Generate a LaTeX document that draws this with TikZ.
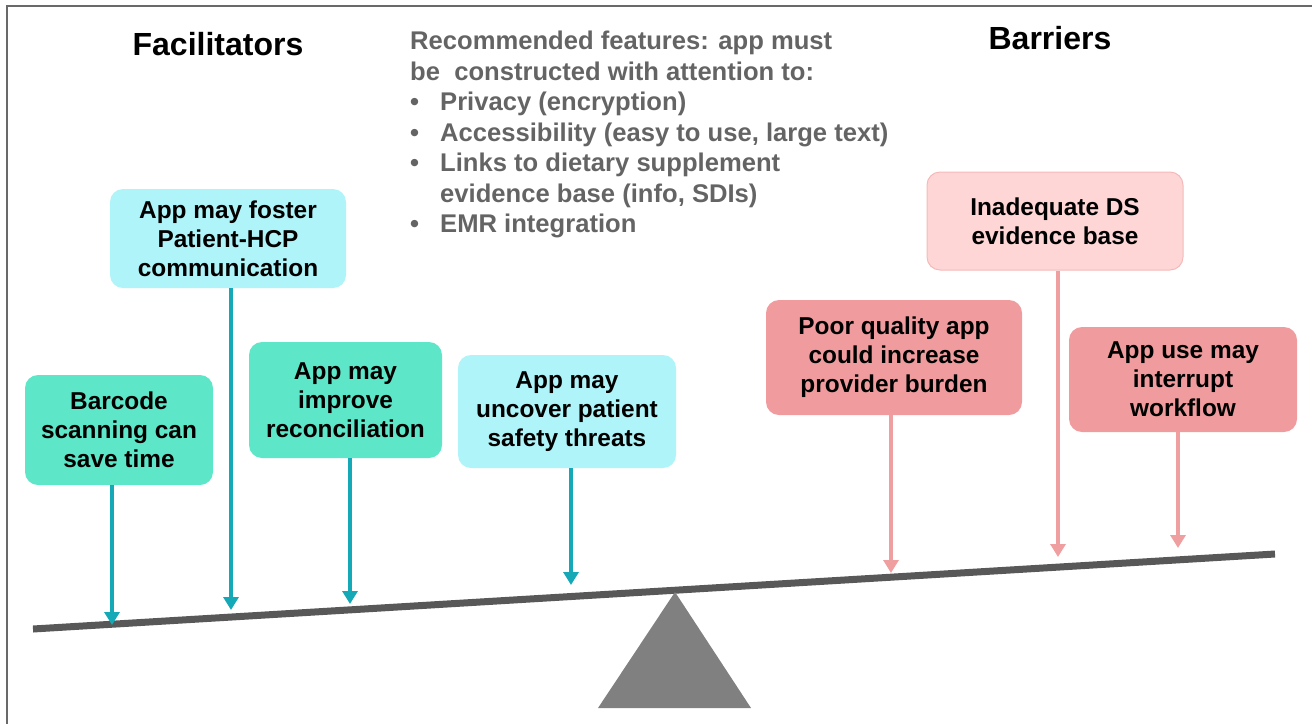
\documentclass[tikz,border=0pt]{standalone}
\usepackage{fontspec}
\setmainfont{Liberation Sans}
\usetikzlibrary{arrows.meta}

\definecolor{facgreen}{HTML}{5EE6C8}
\definecolor{faccyan}{HTML}{AEF4F8}
\definecolor{barsalmon}{HTML}{F09C9E}
\definecolor{barpink}{HTML}{FDD6D5}
\definecolor{barborder}{HTML}{F6B9B9}
\definecolor{facline}{HTML}{15A8B7}
\definecolor{barline}{HTML}{F09FA0}
\definecolor{beamgray}{HTML}{585858}
\definecolor{standgray}{HTML}{808080}
\definecolor{textgray}{HTML}{646464}

\tikzset{
	box/.style={rounded corners=13pt, align=center, inner sep=0pt, font=\bfseries\fontsize{24.4}{29}\selectfont},
	heading/.style={font=\bfseries\fontsize{32}{38}\selectfont},
	facarrow/.style={draw=facline, line width=3.5pt, -{Triangle[length=13pt, width=15pt]}},
	bararrow/.style={draw=barline, line width=3.5pt, -{Triangle[length=13pt, width=15pt]}}
}

\begin{document}
\begin{tikzpicture}[x=1pt, y=-1pt]
		\useasboundingbox (0,0) rectangle (1312,724);
		%\draw[help lines, step=50] (0,0) grid (1312,724);
		
		\draw[draw=beamgray!90, line width=2pt] (7,724) -- (7,6) -- (1312,6);
		
		\node[heading] (fac) at (218, 44) {Facilitators};
		\node[heading] (bar) at (1050, 38) {Barriers};
		
		\node[anchor=north west, align=left, inner sep=0pt, text=textgray,
			font=\bfseries\fontsize{25.6}{30.5}\selectfont] (feat) at (410, 31)
		{Recommended features: app must\\
			be\ \ constructed with attention to:\\
			\makebox[30pt][l]{\textbullet}Privacy (encryption)\\
			\makebox[30pt][l]{\textbullet}Accessibility (easy to use, large text)\\
			\makebox[30pt][l]{\textbullet}Links to dietary supplement\\
			\hspace*{30pt}evidence base (info, SDIs)\\
			\makebox[30pt][l]{\textbullet}EMR integration};
		
		% lever
		\coordinate (beamL) at (33, 629);
		\coordinate (beamR) at (1275, 554);
		\draw[beamgray, line width=7pt] (beamL) -- (beamR);
		\fill[standgray] (675, 592) -- (751, 708) -- (598, 708) -- cycle;
		
		\foreach \n\x\y\w\h\c\t in {
			f1/119/430/188/110/facgreen/{Barcode\\scanning can\\save time},
			f2/228/238.5/236/99/faccyan/{App may foster\\Patient-HCP\\communication},
			f3/345.5/400/193/116/facgreen/{App may\\improve\\reconciliation},
			f4/567/411.5/218/113/faccyan/{App may\\uncover patient\\safety threats},
			b1/894/357.5/256/115/barsalmon/{Poor quality app\\could increase\\provider burden},
			b3/1183/379.5/228/105/barsalmon/{App use may\\interrupt\\workflow}}
		\node[box, fill=\c, minimum width=\w, minimum height=\h] (\n) at (\x, \y) {\t};
		
		\node[box, fill=barpink, draw=barborder, line width=1pt,
			minimum width=256, minimum height=98] (b2) at (1055, 221) {Inadequate DS\\evidence base};
		
		\foreach \n\x\y in {f1/112/625, f2/231/610, f3/350/604, f4/571/585}
		{
			\coordinate (h\n) at (\x, \y);
			\draw[facarrow] (\n.south -| h\n) -- (h\n);
		}
		
		\foreach \n\x\y in {b1/891/573, b2/1058/557, b3/1178/548}
		{
			\coordinate (h\n) at (\x, \y);
			\draw[bararrow] (\n.south -| h\n) -- (h\n);
		}
	\end{tikzpicture}
\end{document}
